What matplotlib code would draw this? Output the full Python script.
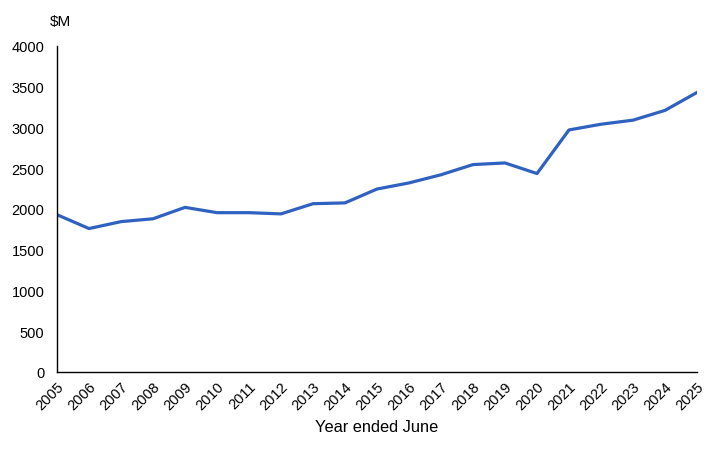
import matplotlib
matplotlib.use("Agg")
import matplotlib.pyplot as plt

years = [str(y) for y in range(2005, 2026)]
values = [1930, 1760, 1845, 1880, 2020, 1955, 1955, 1940, 2065, 2075,
          2245, 2320, 2420, 2545, 2565, 2435, 2970, 3040, 3090, 3210, 3430]
yticks = [0, 500, 1000, 1500, 2000, 2500, 3000, 3500, 4000]

plt.rcParams["font.family"] = ["Liberation Sans", "DejaVu Sans"]
plt.rcParams["font.size"] = 10.5

fig = plt.figure(figsize=(7.2, 4.56), dpi=100)
ax = fig.add_axes([57 / 720, 1 - 373 / 456, 640 / 720, 326 / 456])

ax.plot(range(len(years)), values, color="#2F62C0", linewidth=2.3,
        solid_joinstyle="round")

ax.set_xlim(0, len(years) - 1)
ax.set_ylim(0, 4000)
ax.set_yticks(yticks)
ax.set_xticks(range(len(years)))
ax.set_xticklabels(years, rotation=45, ha="right", rotation_mode="anchor")
ax.tick_params(axis="y", length=0, pad=9)
ax.tick_params(axis="x", length=0, pad=5)

for side in ["top", "right"]:
    ax.spines[side].set_visible(False)
for side in ["left", "bottom"]:
    ax.spines[side].set_linewidth(1.0)
    ax.spines[side].set_color("black")

ax.set_xlabel("Year ended June", fontsize=11.8, labelpad=5)
fig.text(50 / 720, 1 - 22 / 456, "$M", ha="left", va="center", fontsize=11)

fig.savefig("out.png", dpi=100)
